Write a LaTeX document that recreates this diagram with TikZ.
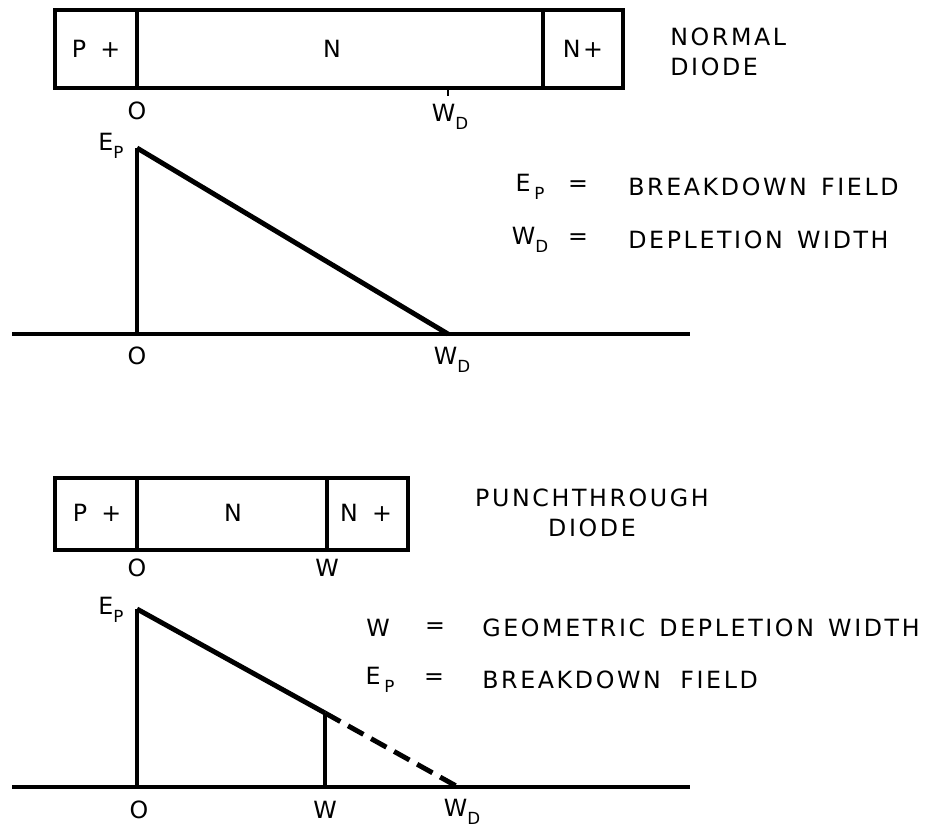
\documentclass[tikz,border=0pt]{standalone}
\usepackage{fontspec}
\setmainfont{DejaVu Sans}[LetterSpace=11,WordSpace=1.4]
\tikzset{lbl/.style={font=\fontsize{13.5}{17}\selectfont,inner sep=0pt},
  slab/.style={line width=1.8pt},
  axis/.style={line width=2pt},
  field/.style={line width=2.8pt}}
\def\sub#1{\raisebox{-0.6ex}{\fontsize{9.5}{10}\selectfont#1}}

\begin{document}
\begin{tikzpicture}[x=0.02cm,y=-0.02cm]
\useasboundingbox (0,0) rectangle (933,827);
%\draw[help lines,step=50] (0,0) grid (933,827);

% normal diode
\draw[slab] (55,10) rectangle (623,88);
\draw[slab] (137,10)--(137,88);
\draw[slab] (543,10)--(543,88);
\draw[line width=1pt] (448,88)--(448,96);
\node[lbl] (pp1) at (96,49) {P +};
\node[lbl] (n1) at (332,49) {N};
\node[lbl] (np1) at (583,49) {N+};
\node[lbl] (o1) at (137,111) {O};
\node[lbl] (w1) at (450,117) {W\sub{D}};
\node[lbl,align=left,anchor=west] (t1) at (670,52) {NORMAL\\DIODE};

\coordinate (ep1) at (137,148);
\coordinate (z1) at (137,334);
\coordinate (wd1) at (448,334);
\draw[axis] (12,334)--(690,334);
\draw[axis] (z1)--(ep1);
\draw[field] (ep1)--(wd1);
\node[lbl] (epl1) at (111,146) {E\sub{P}};
\node[lbl] (zl1) at (137,356) {O};
\node[lbl] (wdl1) at (452,360) {W\sub{D}};

\node[lbl] (k1a) at (530,187) {E\,\sub{P}};
\node[lbl] (k1b) at (578,186) {=};
\node[lbl,anchor=west] (k1c) at (628,187) {BREAKDOWN FIELD};
\node[lbl] (k2a) at (530,240) {W\sub{D}};
\node[lbl] (k2b) at (578,239) {=};
\node[lbl,anchor=west] (k2c) at (628,240) {DEPLETION WIDTH};

% punchthrough diode
\draw[slab] (55,478) rectangle (408,550);
\draw[slab] (137,478)--(137,550);
\draw[slab] (327,478)--(327,550);
\node[lbl] (pp2) at (97,513) {P +};
\node[lbl] (n2) at (233,513) {N};
\node[lbl] (np2) at (366,513) {N +};
\node[lbl] (o2) at (137,568) {O};
\node[lbl] (w2) at (327,568) {W};
\node[lbl,align=center] (t2) at (592,513) {PUNCHTHROUGH\\DIODE};

\coordinate (ep2) at (137,609);
\coordinate (z2) at (137,787);
\coordinate (wk) at (325,713);
\coordinate (wb) at (325,787);
\coordinate (wd2) at (458,787);
\draw[axis] (12,787)--(690,787);
\draw[axis] (z2)--(ep2);
\draw[field] (ep2)--(wk);
\draw[axis] (wk)--(wb);
\draw[field,dash pattern=on 10pt off 5pt] (wk)--(wd2);
\node[lbl] (epl2) at (111,610) {E\sub{P}};
\node[lbl] (zl2) at (139,810) {O};
\node[lbl] (wl2) at (325,810) {W};
\node[lbl] (wdl2) at (462,812) {W\sub{D}};

\node[lbl] (k3a) at (378,628) {W};
\node[lbl] (k3b) at (435,628) {=};
\node[lbl,anchor=west] (k3c) at (482,628) {GEOMETRIC DEPLETION WIDTH};
\node[lbl] (k4a) at (380,680) {E\,\sub{P}};
\node[lbl] (k4b) at (434,679) {=};
\node[lbl,anchor=west] (k4c) at (482,680) {BREAKDOWN\hspace{3pt} FIELD};
\end{tikzpicture}
\end{document}
